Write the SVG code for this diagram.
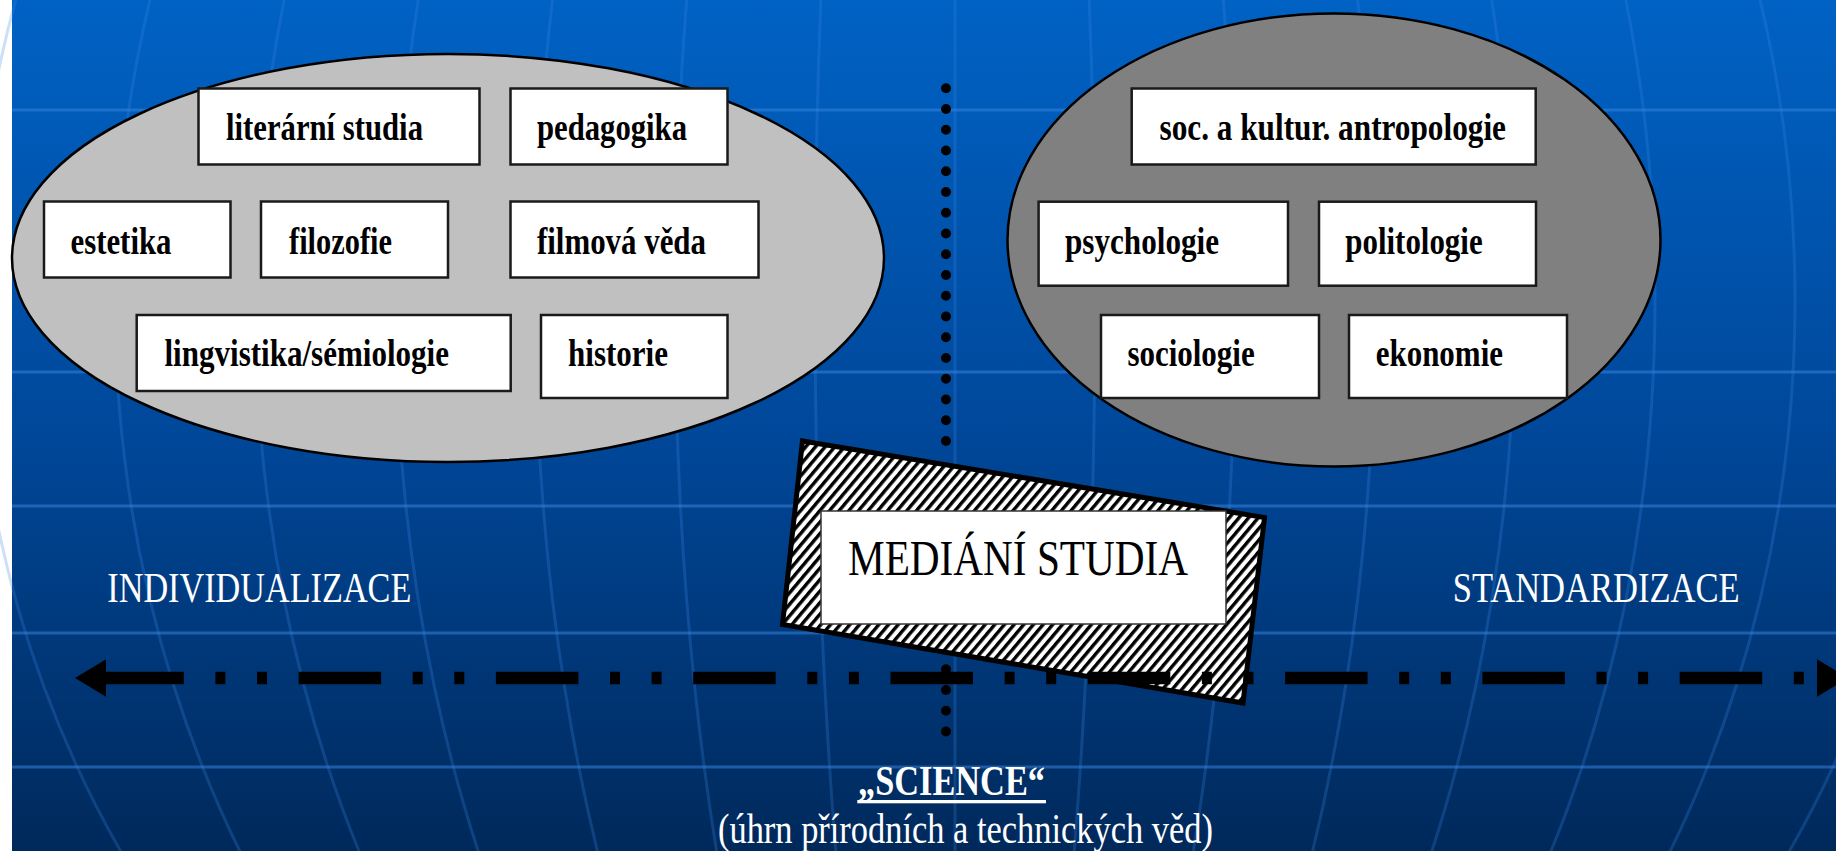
<svg xmlns="http://www.w3.org/2000/svg" width="1836" height="851" viewBox="0 0 1836 851">
<defs>
<linearGradient id="bg" x1="0" y1="0" x2="0" y2="1">
<stop offset="0" stop-color="#0062c4"/>
<stop offset="0.5" stop-color="#00489b"/>
<stop offset="1" stop-color="#00295b"/>
</linearGradient>
<pattern id="hatch" patternUnits="userSpaceOnUse" width="7.4" height="7.4" patternTransform="rotate(40)">
<rect width="7.4" height="7.4" fill="#ffffff"/>
<rect width="3.4" height="7.4" fill="#000000"/>
</pattern>
<style>
.grid{fill:none;stroke:#3a88e4;stroke-width:3;opacity:0.26}
.hline{stroke:#3a88e4;stroke-width:3;opacity:0.5}
.box{fill:#ffffff;stroke:#1a1a1a;stroke-width:2.5}
.lbl{font-family:"Liberation Serif","Times New Roman",serif;font-weight:bold;font-size:38px;fill:#000}
.axis{font-family:"Liberation Serif","Times New Roman",serif;font-size:42px;fill:#ffffff}
</style>
</defs>
<g id="background">
<rect x="0" y="0" width="1836" height="851" fill="#ffffff"/>
<rect x="12" y="0" width="1824" height="851" fill="url(#bg)"/>
<line class="hline" x1="12" y1="110" x2="1836" y2="110"/>
<line class="hline" x1="12" y1="372" x2="1836" y2="372"/>
<line class="hline" x1="12" y1="506" x2="1836" y2="506"/>
<line class="hline" x1="12" y1="633" x2="1836" y2="633" opacity="0.25"/>
<line class="hline" x1="12" y1="767" x2="1836" y2="767" opacity="0.35"/>
<line class="grid" x1="955" y1="0" x2="955" y2="851"/>
<ellipse class="grid" cx="955" cy="300" rx="140" ry="1050"/>
<ellipse class="grid" cx="955" cy="300" rx="280" ry="1050"/>
<ellipse class="grid" cx="955" cy="300" rx="420" ry="1050"/>
<ellipse class="grid" cx="955" cy="300" rx="560" ry="1050"/>
<ellipse class="grid" cx="955" cy="300" rx="700" ry="1050"/>
<ellipse class="grid" cx="955" cy="300" rx="840" ry="1050"/>
<ellipse class="grid" cx="955" cy="300" rx="980" ry="1050"/>
</g>
<g id="humanities">
<ellipse cx="448" cy="258" rx="436" ry="204" fill="#c0c0c0" stroke="#000" stroke-width="2.5"/>
</g>
<g id="node-literarni-studia">
<rect class="box" x="198.5" y="88.5" width="281" height="76"/>
<text class="lbl" x="226" y="140" textLength="197" lengthAdjust="spacingAndGlyphs">literární studia</text>
</g>
<g id="node-pedagogika">
<rect class="box" x="510.5" y="88.5" width="217" height="76"/>
<text class="lbl" x="537" y="140" textLength="150" lengthAdjust="spacingAndGlyphs">pedagogika</text>
</g>
<g id="node-estetika">
<rect class="box" x="44" y="201.5" width="186.5" height="76"/>
<text class="lbl" x="70.5" y="253.5" textLength="101" lengthAdjust="spacingAndGlyphs">estetika</text>
</g>
<g id="node-filozofie">
<rect class="box" x="261" y="201.5" width="187" height="76"/>
<text class="lbl" x="289" y="253.5" textLength="103" lengthAdjust="spacingAndGlyphs">filozofie</text>
</g>
<g id="node-filmova-veda">
<rect class="box" x="510.5" y="201.5" width="248" height="76"/>
<text class="lbl" x="537" y="253.5" textLength="169" lengthAdjust="spacingAndGlyphs">filmová věda</text>
</g>
<g id="node-lingvistika">
<rect class="box" x="136.7" y="315" width="374" height="76"/>
<text class="lbl" x="164.5" y="365.5" textLength="284.5" lengthAdjust="spacingAndGlyphs">lingvistika/sémiologie</text>
</g>
<g id="node-historie">
<rect class="box" x="541" y="315" width="186.5" height="83"/>
<text class="lbl" x="568" y="365.5" textLength="100" lengthAdjust="spacingAndGlyphs">historie</text>
</g>
<g id="social-sciences">
<ellipse cx="1334" cy="240" rx="326.5" ry="226.5" fill="#808080" stroke="#000" stroke-width="2.5"/>
</g>
<g id="node-antropologie">
<rect class="box" x="1131.7" y="88.5" width="404" height="76"/>
<text class="lbl" x="1159.5" y="140" textLength="346.5" lengthAdjust="spacingAndGlyphs">soc. a kultur. antropologie</text>
</g>
<g id="node-psychologie">
<rect class="box" x="1038.6" y="201.7" width="249.4" height="84"/>
<text class="lbl" x="1065" y="253.5" textLength="154" lengthAdjust="spacingAndGlyphs">psychologie</text>
</g>
<g id="node-politologie">
<rect class="box" x="1319" y="201.7" width="217" height="84"/>
<text class="lbl" x="1345.3" y="253.5" textLength="137.3" lengthAdjust="spacingAndGlyphs">politologie</text>
</g>
<g id="node-sociologie">
<rect class="box" x="1101" y="315" width="218" height="83"/>
<text class="lbl" x="1127.4" y="366" textLength="127.3" lengthAdjust="spacingAndGlyphs">sociologie</text>
</g>
<g id="node-ekonomie">
<rect class="box" x="1349" y="315" width="218" height="83"/>
<text class="lbl" x="1375.7" y="366" textLength="127.3" lengthAdjust="spacingAndGlyphs">ekonomie</text>
</g>
<g id="node-medialni-studia">
<polygon points="802.5,441 1264.5,517.5 1243,703 782.5,624.5" fill="url(#hatch)" stroke="#000" stroke-width="5" stroke-linejoin="miter"/>
<rect x="821" y="511" width="405" height="113" fill="#ffffff" stroke="#333" stroke-width="1.5"/>
<text x="848" y="575" font-family="'Liberation Serif','Times New Roman',serif" font-size="51" fill="#000" textLength="340" lengthAdjust="spacingAndGlyphs">MEDIÁNÍ STUDIA</text>
</g>
<g id="connectors">
<line x1="946" y1="88.3" x2="946" y2="461.8" stroke="#000" stroke-width="10" stroke-linecap="round" stroke-dasharray="0 20.75"/>
<line x1="946" y1="669.3" x2="946" y2="752.3" stroke="#000" stroke-width="10" stroke-linecap="round" stroke-dasharray="0 20.75"/>
<line x1="101.3" y1="678" x2="1822" y2="678" stroke="#000" stroke-width="12.6" stroke-dasharray="82.5 31.6 10 31.6 10 31.6"/>
<polygon points="75,678 106,659.3 106,696.7" fill="#000"/>
<polygon points="1848,678 1817,659.3 1817,696.7" fill="#000"/>
</g>
<g id="labels">
<text class="axis" x="107.3" y="601.7" textLength="304" lengthAdjust="spacingAndGlyphs">INDIVIDUALIZACE</text>
<text class="axis" x="1452.7" y="602.3" textLength="287" lengthAdjust="spacingAndGlyphs">STANDARDIZACE</text>
<text class="axis" x="858" y="795" font-weight="bold" textLength="187" lengthAdjust="spacingAndGlyphs">„SCIENCE“</text>
<rect x="857.3" y="800" width="188.7" height="3.3" fill="#ffffff"/>
<text class="axis" x="718" y="842.7" font-size="41" textLength="495" lengthAdjust="spacingAndGlyphs">(úhrn přírodních a technických věd)</text>
</g>
</svg>
